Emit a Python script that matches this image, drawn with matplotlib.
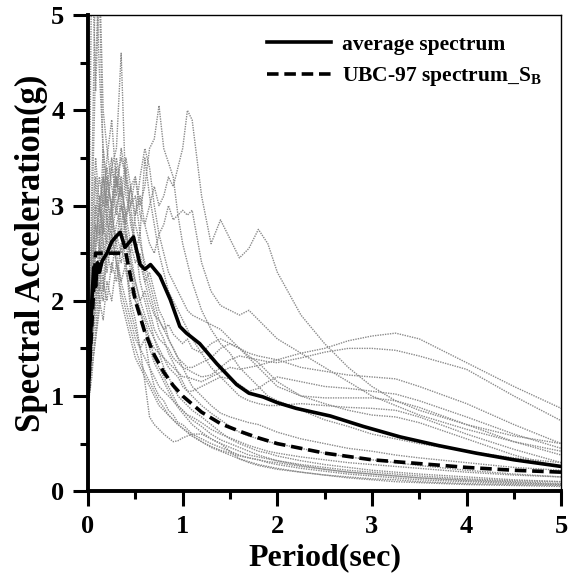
import matplotlib
matplotlib.use("Agg")
import matplotlib.pyplot as plt
from matplotlib.lines import Line2D

plt.rcParams['font.family'] = ['Liberation Serif', 'DejaVu Serif']
plt.rcParams['font.weight'] = 'bold'
plt.rcParams['mathtext.fontset'] = 'custom'
plt.rcParams['mathtext.bf'] = 'Liberation Serif:bold'
plt.rcParams['mathtext.rm'] = 'Liberation Serif:bold'

# period grid (sec) shared by the individual record spectra
periods = [0.0, 0.04, 0.08, 0.12, 0.16, 0.2, 0.25, 0.3, 0.35, 0.4, 0.45, 0.5, 0.55,
           0.6, 0.65, 0.7, 0.75, 0.8, 0.85, 0.9, 0.95, 1.0, 1.05, 1.1, 1.2, 1.3, 1.4,
           1.5, 1.6, 1.7, 1.8, 1.9, 2.0, 2.25, 2.5, 2.75, 3.0, 3.25, 3.5, 4.0, 4.5, 5.0]

# spectral accelerations (g) of the individual records
rec01 = [1.0, 3.2, 5.6, 4.4, 3.6, 3.1, 2.7, 2.4, 2.0, 1.8, 1.6, 1.4, 1.3, 1.2, 1.1, 1.0, 0.9, 0.85,
         0.8, 0.75, 0.7, 0.66, 0.62, 0.58, 0.52, 0.46, 0.42, 0.38, 0.34, 0.31, 0.28, 0.26, 0.24,
         0.2, 0.17, 0.15, 0.13, 0.12, 0.1, 0.08, 0.07, 0.06]
rec02 = [1.3, 5.8, 4.2, 5.3, 3.4, 2.8, 3.0, 2.5, 2.2, 2.4, 1.9, 1.7, 1.5, 1.6, 1.3, 1.1, 1.0, 0.95,
         0.85, 0.8, 0.72, 0.7, 0.65, 0.6, 0.55, 0.5, 0.46, 0.42, 0.38, 0.35, 0.33, 0.3, 0.28,
         0.24, 0.21, 0.18, 0.16, 0.14, 0.12, 0.1, 0.08, 0.07]
rec03 = [1.1, 1.8, 2.6, 3.0, 3.3, 2.9, 3.4, 3.6, 4.6, 3.1, 2.9, 2.5, 2.7, 2.3, 2.1, 1.9, 1.7, 1.6,
         1.45, 1.35, 1.25, 1.15, 1.05, 1.0, 0.9, 0.82, 0.75, 0.68, 0.62, 0.58, 0.55, 0.52, 0.5,
         0.45, 0.4, 0.36, 0.33, 0.3, 0.27, 0.22, 0.18, 0.15]
rec04 = [1.0, 2.2, 2.9, 3.3, 3.0, 3.5, 3.9, 3.2, 3.5, 3.3, 2.8, 2.6, 2.2, 2.0, 1.8, 1.6, 1.45, 1.3,
         1.2, 1.1, 1.0, 0.95, 0.9, 0.85, 0.78, 0.7, 0.62, 0.55, 0.5, 0.46, 0.42, 0.4, 0.37,
         0.32, 0.28, 0.25, 0.22, 0.2, 0.18, 0.15, 0.12, 0.1]
rec05 = [0.9, 1.6, 2.0, 2.4, 2.8, 2.6, 3.0, 3.3, 3.1, 3.5, 3.2, 3.3, 3.0, 3.2, 3.6, 3.7, 4.05, 3.6,
         3.45, 3.3, 2.9, 2.6, 2.4, 2.2, 1.9, 1.7, 1.55, 1.45, 1.3, 1.2, 1.1, 1.0, 0.95,
         0.85, 0.75, 0.68, 0.6, 0.55, 0.5, 0.42, 0.35, 0.3]
rec06 = [1.0, 1.5, 2.2, 2.6, 2.4, 2.8, 2.7, 3.0, 3.2, 2.9, 3.0, 3.3, 2.9, 2.8, 3.0, 3.2, 3.0, 3.1,
         3.3, 3.2, 3.4, 3.6, 4.0, 3.9, 3.1, 2.6, 2.85, 2.65, 2.45, 2.55, 2.75, 2.6, 2.3,
         1.85, 1.55, 1.3, 1.1, 0.95, 0.85, 0.7, 0.58, 0.5]
rec07 = [1.1, 1.7, 2.3, 2.0, 2.6, 2.9, 2.5, 2.8, 3.0, 2.7, 2.5, 2.9, 3.1, 2.8, 2.6, 2.5, 2.7, 2.8,
         3.0, 2.85, 2.9, 2.95, 2.9, 2.95, 2.4, 2.1, 1.95, 1.9, 1.85, 1.9, 1.8, 1.7, 1.6,
         1.45, 1.3, 1.15, 1.0, 0.9, 0.8, 0.65, 0.52, 0.42]
rec08 = [0.9, 1.3, 1.6, 1.9, 2.2, 2.0, 2.4, 2.2, 2.6, 2.3, 2.1, 2.0, 1.9, 1.7, 1.6, 1.5, 1.45, 1.4,
         1.35, 1.3, 1.25, 1.2, 1.2, 1.18, 1.15, 1.2, 1.25, 1.3, 1.28, 1.3, 1.32, 1.35, 1.38,
         1.45, 1.5, 1.58, 1.63, 1.66, 1.6, 1.35, 1.1, 0.87]
rec09 = [1.0, 1.5, 1.9, 2.3, 2.1, 2.5, 2.8, 2.6, 2.4, 2.7, 2.5, 2.2, 2.0, 2.1, 1.9, 1.7, 1.6, 1.55,
         1.5, 1.4, 1.35, 1.3, 1.28, 1.25, 1.2, 1.22, 1.3, 1.38, 1.42, 1.4, 1.38, 1.36, 1.35,
         1.4, 1.46, 1.5, 1.5, 1.48, 1.42, 1.28, 1.0, 0.74]
rec10 = [1.2, 2.0, 2.6, 3.1, 2.8, 3.3, 3.0, 3.5, 3.2, 2.9, 2.6, 2.4, 2.5, 2.2, 2.0, 1.85, 1.8, 1.7,
         1.75, 1.65, 1.6, 1.55, 1.6, 1.5, 1.45, 1.55, 1.6, 1.55, 1.5, 1.45, 1.42, 1.4, 1.38,
         1.3, 1.26, 1.22, 1.2, 1.18, 1.1, 0.92, 0.7, 0.5]
rec11 = [0.95, 1.4, 2.0, 2.5, 2.2, 2.7, 2.9, 2.6, 3.0, 2.8, 2.4, 2.2, 2.0, 1.85, 1.7, 1.6, 1.5, 1.4,
         1.3, 1.25, 1.2, 1.1, 1.05, 1.05, 1.1, 1.15, 1.2, 1.18, 1.12, 1.05, 1.08, 1.15, 1.2,
         1.15, 1.1, 1.08, 1.05, 1.02, 0.95, 0.78, 0.6, 0.45]
rec12 = [1.0, 1.8, 2.4, 2.1, 2.9, 3.2, 3.5, 3.0, 2.7, 3.4, 3.0, 2.6, 2.4, 2.2, 2.3, 2.1, 1.9, 1.8,
         1.6, 1.5, 1.4, 1.35, 1.3, 1.3, 1.35, 1.4, 1.5, 1.55, 1.5, 1.4, 1.3, 1.2, 1.1,
         1.0, 0.98, 0.98, 0.98, 0.95, 0.88, 0.7, 0.52, 0.38]
rec13 = [1.1, 2.4, 3.0, 2.6, 3.3, 3.0, 3.4, 3.1, 3.6, 3.3, 3.0, 3.1, 2.7, 3.5, 3.1, 2.8, 2.5, 2.3,
         2.1, 2.0, 1.9, 1.8, 1.7, 1.6, 1.45, 1.3, 1.2, 1.1, 1.0, 0.95, 0.92, 0.9, 0.9,
         0.92, 0.9, 0.88, 0.87, 0.85, 0.78, 0.6, 0.44, 0.3]
rec14 = [1.3, 2.6, 3.5, 3.0, 2.7, 3.1, 2.8, 3.3, 3.0, 2.8, 3.2, 2.9, 3.3, 3.6, 3.4, 3.0, 2.7, 2.5,
         2.3, 2.2, 2.1, 2.0, 1.9, 1.85, 1.8, 1.75, 1.7, 1.6, 1.5, 1.42, 1.35, 1.25, 1.15,
         1.0, 0.92, 0.85, 0.8, 0.78, 0.72, 0.55, 0.38, 0.25]
rec15 = [1.2, 2.2, 2.8, 2.5, 3.1, 3.4, 2.9, 3.3, 2.8, 2.4, 2.0, 1.8, 1.5, 1.15, 0.78, 0.7, 0.65,
         0.6, 0.56, 0.52, 0.53, 0.56, 0.58, 0.6, 0.6, 0.55, 0.5, 0.42, 0.34, 0.3, 0.27, 0.25,
         0.23, 0.2, 0.17, 0.14, 0.12, 0.1, 0.09, 0.07, 0.06, 0.05]
rec16 = [1.0, 2.0, 3.3, 2.7, 3.6, 3.2, 3.0, 3.4, 3.1, 2.6, 2.3, 2.0, 1.9, 1.8, 1.6, 1.4, 1.3, 1.2,
         1.1, 1.0, 0.9, 0.85, 0.8, 0.78, 0.72, 0.65, 0.6, 0.56, 0.52, 0.48, 0.45, 0.42, 0.4,
         0.36, 0.33, 0.3, 0.28, 0.26, 0.24, 0.2, 0.17, 0.15]
rec17 = [0.9, 1.2, 1.7, 2.2, 2.0, 2.5, 2.3, 2.7, 2.5, 2.9, 3.2, 2.8, 2.6, 2.4, 2.2, 2.0, 1.8, 1.7,
         1.6, 1.5, 1.4, 1.3, 1.2, 1.1, 1.0, 0.9, 0.82, 0.78, 0.75, 0.72, 0.7, 0.66, 0.62,
         0.55, 0.5, 0.45, 0.42, 0.38, 0.35, 0.3, 0.25, 0.22]
rec18 = [1.1, 1.9, 2.5, 3.0, 2.6, 2.3, 2.7, 2.4, 2.2, 2.0, 1.8, 1.6, 1.5, 1.4, 1.3, 1.2, 1.1, 1.05,
         1.0, 0.95, 0.9, 0.85, 0.8, 0.75, 0.68, 0.6, 0.54, 0.5, 0.46, 0.42, 0.38, 0.35, 0.32,
         0.28, 0.25, 0.22, 0.2, 0.18, 0.16, 0.13, 0.11, 0.1]
rec19 = [1.0, 2.8, 4.5, 5.5, 4.0, 3.6, 3.2, 2.9, 3.3, 2.7, 2.4, 2.1, 1.9, 1.7, 1.5, 1.35, 1.25, 1.15,
         1.05, 0.95, 0.88, 0.82, 0.76, 0.7, 0.62, 0.55, 0.5, 0.46, 0.42, 0.38, 0.36, 0.34, 0.32,
         0.27, 0.23, 0.2, 0.18, 0.16, 0.14, 0.12, 0.1, 0.08]
rec20 = [0.95, 1.3, 1.6, 2.0, 1.8, 2.2, 2.0, 2.4, 2.1, 1.9, 1.7, 1.5, 1.35, 1.25, 1.15, 1.05, 0.95,
         0.88, 0.8, 0.75, 0.7, 0.66, 0.62, 0.58, 0.52, 0.47, 0.43, 0.4, 0.37, 0.35, 0.33, 0.31,
         0.3, 0.26, 0.23, 0.2, 0.18, 0.16, 0.14, 0.11, 0.09, 0.07]
records = [rec01, rec02, rec03, rec04, rec05, rec06, rec07, rec08, rec09, rec10,
           rec11, rec12, rec13, rec14, rec15, rec16, rec17, rec18, rec19, rec20]

# average spectrum
avg_T = [0.0, 0.02, 0.04, 0.06, 0.08, 0.1, 0.12, 0.15, 0.2, 0.25, 0.3, 0.34, 0.39, 0.44, 0.48,
         0.55, 0.6, 0.66, 0.76, 0.87, 0.97, 1.04, 1.18, 1.36, 1.57, 1.7, 1.85, 2.0, 2.2, 2.56,
         2.91, 3.3, 3.7, 4.1, 4.5, 5.0]
avg_sa = [1.0, 1.4, 2.0, 2.35, 2.15, 2.4, 2.3, 2.42, 2.5, 2.62, 2.68, 2.72, 2.56, 2.62, 2.67,
          2.38, 2.33, 2.38, 2.26, 2.01, 1.73, 1.66, 1.55, 1.34, 1.12, 1.03, 0.99, 0.93, 0.87,
          0.79, 0.68, 0.57, 0.48, 0.4, 0.33, 0.26]

# UBC-97 design spectrum, soil S_B
ubc_T = [0.0, 0.08, 0.4, 0.5, 0.6, 0.7, 0.8, 0.9, 1.0, 1.2, 1.4, 1.6, 1.8, 2.0, 2.5, 3.0,
         3.5, 4.0, 4.5, 5.0]
ubc_sa = [1.0, 2.5, 2.5, 2.0, 1.67, 1.43, 1.25, 1.11, 1.0, 0.83, 0.71, 0.63, 0.56, 0.5, 0.4,
          0.33, 0.29, 0.25, 0.22, 0.2]

fig = plt.figure(figsize=(5.68, 5.82), dpi=100)
ax = fig.add_axes([0.155, 0.156, 0.833, 0.818])

for rec in records:
    ax.plot(periods, rec, color='#8a8a8a', lw=1.0, ls=(0, (1.0, 0.8)), zorder=1)

ax.plot(avg_T, avg_sa, color='black', lw=2.6, zorder=3)
ax.plot(ubc_T, ubc_sa, color='black', lw=2.6, ls=(0, (3.2, 1.6)), zorder=3)

ax.set_xlim(0, 5)
ax.set_ylim(0, 5)
ax.set_xticks([0, 1, 2, 3, 4, 5])
ax.set_xticks([0.5, 1.5, 2.5, 3.5, 4.5], minor=True)
ax.set_yticks([0, 1, 2, 3, 4, 5])
ax.set_yticks([0.5, 1.5, 2.5, 3.5, 4.5], minor=True)
ax.tick_params(which='major', direction='out', length=11, width=2.2, labelsize=19, pad=6)
ax.tick_params(which='minor', direction='out', length=6, width=2.2)
ax.tick_params(top=False, right=False)

ax.spines['left'].set_linewidth(2.8)
ax.spines['bottom'].set_linewidth(2.8)
ax.spines['top'].set_linewidth(1.0)
ax.spines['right'].set_linewidth(1.0)

ax.set_xlabel('Period(sec)', fontsize=23, fontweight='bold', labelpad=4)
ax.set_ylabel('Spectral Acceleration(g)', fontsize=25, fontweight='bold', labelpad=2)

handles = [Line2D([], [], color='black', lw=2.6),
           Line2D([], [], color='black', lw=2.6, ls=(0, (3.2, 1.6)))]
labels = ['average spectrum', r'UBC-97 spectrum_S$_\mathbf{B}$']
ax.legend(handles, labels, loc='upper right', frameon=False,
          handlelength=3.0, handletextpad=0.5, borderaxespad=0.5,
          labelspacing=0.5, prop={'weight': 'bold', 'size': 15.5})

fig.savefig('out.png', dpi=100)
